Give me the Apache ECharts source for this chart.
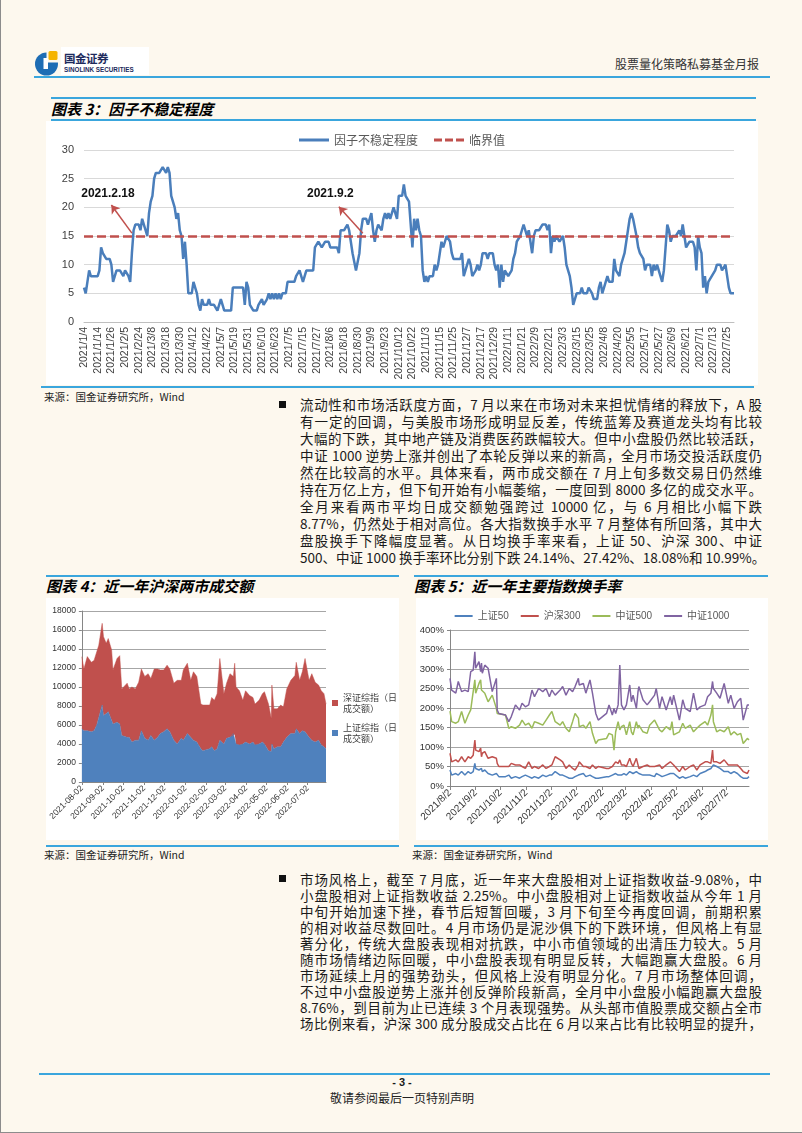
<!DOCTYPE html>
<html><head><meta charset="utf-8">
<script src="https://cdn.jsdelivr.net/npm/echarts@6/dist/echarts.min.js"></script>
<style>
body{margin:0;}
#page{position:relative;width:802px;height:1133px;background:#fdf8ee;overflow:hidden;font-family:'Noto Sans CJK SC',sans-serif;color:#1a1a1a;box-sizing:border-box;border-left:1px solid #8c8c8c;border-bottom:1px solid #8c8c8c;}
.abs{position:absolute;}
.rule{position:absolute;height:2px;background:#3aa6dd;}
.ttl{position:absolute;font-size:15px;font-weight:700;font-style:italic;white-space:nowrap;line-height:18px;color:#000;}
.src{position:absolute;font-size:10.5px;white-space:nowrap;line-height:12px;color:#222;}
.para{position:absolute;left:299px;width:462px;font-size:13.5px;color:#1a1a1a;}
.para div{white-space:nowrap;text-align:justify;text-align-last:justify;}
.bullet{position:absolute;left:278px;width:7px;height:7px;background:#111;}
.box{position:absolute;background:#fff;}
</style></head>
<body>
<div id="page">
  <div class="abs" style="left:60px;top:47px;width:88px;height:28px;background:#fff;"></div>
  <svg class="abs" style="left:34px;top:50px" width="25" height="26" viewBox="0 0 25 26">
    <circle cx="11.5" cy="14" r="11.5" fill="#1e6db4"/>
    <rect x="11.5" y="0" width="14" height="12.5" fill="#fdf8ee"/>
    <rect x="8.5" y="8" width="4.5" height="11" fill="#ffffff"/>
    <rect x="13.5" y="1" width="9" height="9" rx="1.5" fill="#f5b400"/>
  </svg>
  <div class="abs" style="left:63px;top:51px;font-size:11.5px;font-weight:700;letter-spacing:-0.5px;color:#1d2a5c;line-height:14px;white-space:nowrap;">国金证券</div>
  <div class="abs" style="left:63px;top:66px;font-family:'Liberation Sans',sans-serif;font-size:6.3px;font-weight:700;color:#1d2a5c;line-height:7px;white-space:nowrap;">SINOLINK SECURITIES</div>
  <div class="abs" style="right:43px;top:56px;font-size:12px;color:#333;line-height:15px;white-space:nowrap;">股票量化策略私募基金月报</div>
  <div class="rule" style="left:33px;top:76px;width:736px;"></div>

  <div class="rule" style="left:50px;top:97px;width:705px;"></div>
  <div class="ttl" style="left:50px;top:100px;">图表 3：因子不稳定程度</div>
  <div class="rule" style="left:50px;top:119px;width:705px;"></div>
  <div class="box" id="c3" style="left:45px;top:121px;width:712px;height:264px;"></div>
  <div class="rule" style="left:40px;top:386px;width:713px;"></div>
  <div class="src" style="left:43px;top:391px;">来源：国金证券研究所，Wind</div>

  <div class="bullet" style="top:401px;"></div>
  <div class="para" style="top:396px;line-height:17px;">
    <div>流动性和市场活跃度方面，7 月以来在市场对未来担忧情绪的释放下，A 股</div>
    <div>有一定的回调，与美股市场形成明显反差，传统蓝筹及赛道龙头均有比较</div>
    <div>大幅的下跌，其中地产链及消费医药跌幅较大。但中小盘股仍然比较活跃，</div>
    <div>中证 1000 逆势上涨并创出了本轮反弹以来的新高，全月市场交投活跃度仍</div>
    <div>然在比较高的水平。具体来看，两市成交额在 7 月上旬多数交易日仍然维</div>
    <div>持在万亿上方，但下旬开始有小幅萎缩，一度回到 8000 多亿的成交水平。</div>
    <div>全月来看两市平均日成交额勉强跨过 10000 亿，与 6 月相比小幅下跌</div>
    <div>8.77%，仍然处于相对高位。各大指数换手水平 7 月整体有所回落，其中大</div>
    <div>盘股换手下降幅度显著。从日均换手率来看，上证 50、沪深 300、中证</div>
    <div>500、中证 1000 换手率环比分别下跌 24.14%、27.42%、18.08%和 10.99%。</div>
  </div>

  <div class="rule" style="left:45px;top:575px;width:353px;"></div>
  <div class="ttl" style="left:45px;top:577px;">图表 4：近一年沪深两市成交额</div>
  <div class="box" style="left:45px;top:598px;width:353px;height:242px;"></div>
  <div class="abs" id="c4" style="left:45px;top:598px;width:362px;height:242px;"></div>
  <div class="rule" style="left:45px;top:845px;width:353px;"></div>
  <div class="src" style="left:43px;top:849px;">来源：国金证券研究所，Wind</div>

  <div class="rule" style="left:413px;top:575px;width:354px;"></div>
  <div class="ttl" style="left:413px;top:577px;">图表 5：近一年主要指数换手率</div>
  <div class="box" id="c5" style="left:415px;top:598px;width:352px;height:242px;"></div>
  <div class="rule" style="left:413px;top:845px;width:354px;"></div>
  <div class="src" style="left:411px;top:849px;">来源：国金证券研究所，Wind</div>

  <div class="bullet" style="top:875px;"></div>
  <div class="para" style="top:871px;line-height:16px;">
    <div>市场风格上，截至 7 月底，近一年来大盘股相对上证指数收益-9.08%，中</div>
    <div>小盘股相对上证指数收益 2.25%。中小盘股相对上证指数收益从今年 1 月</div>
    <div>中旬开始加速下挫，春节后短暂回暖，3 月下旬至今再度回调，前期积累</div>
    <div>的相对收益尽数回吐。4 月市场仍是泥沙俱下的下跌环境，但风格上有显</div>
    <div>著分化，传统大盘股表现相对抗跌，中小市值领域的出清压力较大。5 月</div>
    <div>随市场情绪边际回暖，中小盘股表现有明显反转，大幅跑赢大盘股。6 月</div>
    <div>市场延续上月的强势劲头，但风格上没有明显分化。7 月市场整体回调，</div>
    <div>不过中小盘股逆势上涨并创反弹阶段新高，全月中小盘股小幅跑赢大盘股</div>
    <div>8.76%，到目前为止已连续 3 个月表现强势。从头部市值股票成交额占全市</div>
    <div>场比例来看，沪深 300 成分股成交占比在 6 月以来占比有比较明显的提升，</div>
  </div>

  <div class="rule" style="left:38px;top:1073px;width:731px;"></div>
  <div class="abs" style="left:0;width:802px;top:1076px;text-align:center;font-family:'Liberation Sans',sans-serif;font-weight:700;font-size:11px;line-height:13px;">- 3 -</div>
  <div class="abs" style="left:0;width:802px;top:1090px;text-align:center;font-size:12px;line-height:15px;color:#222;">敬请参阅最后一页特别声明</div>
</div>

<script>
// ---------- 图表3 数据 ----------
const factorTickLabels = ['2021/1/4','2021/1/14','2021/1/26','2021/2/5','2021/2/24','2021/3/8','2021/3/18','2021/3/30','2021/4/12','2021/4/22','2021/5/7','2021/5/19','2021/5/31','2021/6/10','2021/6/23','2021/7/5','2021/7/15','2021/7/27','2021/8/6','2021/8/18','2021/8/30','2021/9/9','2021/9/23','2021/10/12','2021/10/22','2021/11/3','2021/11/15','2021/11/25','2021/12/7','2021/12/17','2021/12/29','2022/1/11','2022/1/21','2022/2/9','2022/2/21','2022/3/3','2022/3/15','2022/3/25','2022/4/8','2022/4/20','2022/5/5','2022/5/17','2022/5/27','2022/6/9','2022/6/21','2022/7/1','2022/7/13','2022/7/25'];
const marketClosedDays = ['2021/1/1','2021/2/11','2021/2/12','2021/2/15','2021/2/16','2021/2/17','2021/4/5','2021/5/3','2021/5/4','2021/5/5','2021/6/14','2021/9/20','2021/9/21','2021/10/1','2021/10/4','2021/10/5','2021/10/6','2021/10/7','2022/1/3','2022/1/31','2022/2/1','2022/2/2','2022/2/3','2022/2/4','2022/4/4','2022/4/5','2022/5/2','2022/5/3','2022/5/4','2022/6/3'];
const factorRange = ['2021/1/4', '2022/7/29'];
const factorValues = [
6,5,7,9,8,8,8,8,8,9,13,12,12,11,11,11,10,7,7,9,
9,9,9,8,9,9,8,7,12,16,17,17,17,16,18,17,16,15,19,21,22,25,26,26,26,26,27,27,26,27,26,22,21,20,18,19,16,15,
11,14,10,5,5,5,7,7,5,3,2,4,3,3,3,4,3,3,3,3,2,2,4,3,2,2,2,2,2,6,6,6,6,6,6,
6,3,7,6,3,3,2,2,2,3,3,4,3,3,4,5,4,5,4,5,4,5,4,5,5,5,7,7,7,7,7,8,8,9,8,7,8,9,9,9,9,
9,13,13,14,14,13,13,14,14,14,13,13,13,13,13,12,16,16,16,16,17,16,14,12,12,9,9,12,16,18,18,18,17,18,19,16,14,16,17,
17,16,18,19,18,19,18,18,20,19,18,22,22,22,24,22,22,21,21,13,18,16,18,16,15,9,7,8,7,8,8,8,10,9,10,12,14,13,14,
15,15,14,12,11,11,11,11,11,12,8,9,10,11,10,8,8,9,10,9,10,12,12,12,11,12,12,12,10,9,10,6,10,7,9,9,
8,8,9,11,12,14,14,15,16,17,17,15,16,16,12,15,16,16,16,16,17,17,17,16,17,12,15,14,15,15,14,14,15,13,10,10,8,6,3,
3,5,5,5,6,5,5,5,6,6,5,4,4,4,6,7,5,6,7,8,7,7,7,11,9,9,8,10,11,12,14,16,18,19,18,18,15,
13,12,12,11,9,10,10,10,8,10,9,10,9,8,7,9,13,17,16,14,15,15,15,15,16,15,17,15,13,13,14,14,14,13,9,15,13,12,6,
8,5,7,7,8,8,9,10,10,10,9,9,10,10,6,5,5,5];
const threshold = 15;
const annotations = [
  {text:'2021.2.18', date:'2021/2/18', value:15.5, tailDate:'2021/1/26', tailValue:20.4, textDate:'2021/1/22', textValue:22.3},
  {text:'2021.9.2',  date:'2021/9/2',  value:15.5, tailDate:'2021/8/13', tailValue:20.1, textDate:'2021/8/6',  textValue:22.3}
];

// ---------- 图表4 数据 ----------
const volTicks = ['2021-08-02','2021-09-02','2021-10-02','2021-11-02','2021-12-02','2022-01-02','2022-02-02','2022-03-02','2022-04-02','2022-05-02','2022-06-02','2022-07-02'];
const volDates = ['2021-08-02','2021-08-05','2021-08-10','2021-08-16','2021-08-20','2021-08-24','2021-08-27','2021-09-01','2021-09-03','2021-09-07','2021-09-10','2021-09-15','2021-09-17','2021-09-23','2021-09-27','2021-09-30','2021-10-08','2021-10-11','2021-10-15','2021-10-20','2021-10-25','2021-10-29','2021-11-03','2021-11-08','2021-11-12','2021-11-17','2021-11-22','2021-11-26','2021-12-01','2021-12-06','2021-12-10','2021-12-16','2021-12-21','2021-12-27','2021-12-30','2022-01-05','2022-01-10','2022-01-14','2022-01-19','2022-01-25','2022-01-28','2022-02-07','2022-02-10','2022-02-14','2022-02-18','2022-02-22','2022-02-28','2022-03-04','2022-03-09','2022-03-14','2022-03-16','2022-03-18','2022-03-23','2022-03-28','2022-04-01','2022-04-07','2022-04-12','2022-04-15','2022-04-21','2022-04-26','2022-04-29','2022-05-05','2022-05-09','2022-05-10','2022-05-13','2022-05-18','2022-05-23','2022-05-27','2022-06-01','2022-06-07','2022-06-13','2022-06-15','2022-06-20','2022-06-24','2022-06-28','2022-07-04','2022-07-08','2022-07-13','2022-07-18','2022-07-22','2022-07-26','2022-07-29'];
const shVol = [5600,5400,5400,5300,5400,6000,6800,8100,7000,7200,7400,6500,6100,6300,6100,4900,4700,4700,4200,4400,4400,5400,4600,4400,4900,4400,4700,5100,5300,5600,5300,4400,4000,4600,4400,5100,4700,4400,4200,3500,3300,3500,3700,3300,3500,4400,4000,4600,4700,5100,5000,4000,3900,4000,4200,4000,4200,3900,4000,4200,4000,3300,3200,4000,3500,3700,3700,4200,4700,5100,5100,5600,5100,5400,5300,4700,4400,4200,4400,3900,3700,3500];
const szVol = [7600,6500,7800,7300,7400,7700,7600,8600,8300,7400,7700,7400,5700,6700,7200,4900,5700,5100,5800,5400,6100,6500,6500,7000,6000,7500,7200,6700,6500,6700,6600,6000,6700,6100,7400,7400,6000,7200,6900,4700,4800,4600,5200,5300,5800,8600,5300,5800,6700,6000,7500,6000,5700,4600,5400,5100,4700,4300,4600,5100,5500,4900,3500,6200,4200,4000,4400,3700,5100,5600,6100,7000,5600,6200,7700,6000,7000,6300,5800,5700,5600,4700];

// ---------- 图表5 数据 ----------
const turnTicks = ['2021/8/2','2021/9/2','2021/10/2','2021/11/2','2021/12/2','2022/1/2','2022/2/2','2022/3/2','2022/4/2','2022/5/2','2022/6/2','2022/7/2'];
const turnDates = ['2021-08-02','2021-08-04','2021-08-09','2021-08-12','2021-08-16','2021-08-20','2021-08-24','2021-08-27','2021-08-30','2021-09-01','2021-09-02','2021-09-06','2021-09-08','2021-09-09','2021-09-10','2021-09-13','2021-09-17','2021-09-22','2021-09-27','2021-09-28','2021-09-30','2021-10-08','2021-10-12','2021-10-15','2021-10-20','2021-10-25','2021-10-28','2021-11-01','2021-11-05','2021-11-09','2021-11-12','2021-11-17','2021-11-22','2021-11-26','2021-11-30','2021-12-03','2021-12-07','2021-12-13','2021-12-16','2021-12-20','2021-12-24','2021-12-28','2021-12-31','2022-01-04','2022-01-05','2022-01-10','2022-01-13','2022-01-18','2022-01-21','2022-01-25','2022-01-28','2022-02-07','2022-02-10','2022-02-14','2022-02-16','2022-02-18','2022-02-21','2022-02-23','2022-02-25','2022-02-28','2022-03-03','2022-03-07','2022-03-09','2022-03-11','2022-03-15','2022-03-17','2022-03-18','2022-03-23','2022-03-28','2022-03-31','2022-04-06','2022-04-08','2022-04-12','2022-04-15','2022-04-20','2022-04-25','2022-04-27','2022-04-29','2022-05-06','2022-05-10','2022-05-13','2022-05-19','2022-05-23','2022-05-27','2022-05-31','2022-06-06','2022-06-09','2022-06-13','2022-06-15','2022-06-16','2022-06-20','2022-06-24','2022-06-29','2022-07-04','2022-07-07','2022-07-11','2022-07-15','2022-07-19','2022-07-22','2022-07-27','2022-07-29'];
const sz50Turn = [41,28,32,28,37,28,37,32,37,58,45,41,45,45,37,41,32,28,32,28,24,24,28,20,24,20,24,28,24,20,24,20,28,24,28,28,37,28,28,24,20,20,24,28,28,32,24,28,24,20,20,24,24,28,24,32,28,28,28,32,28,37,32,32,37,32,32,28,28,28,24,32,28,24,28,32,28,32,20,24,20,24,28,24,32,37,41,45,50,54,50,45,37,37,32,37,32,24,20,20,24];
const hs300Turn = [84,62,67,62,75,62,75,71,79,118,92,88,97,75,84,88,71,75,71,58,50,50,50,58,54,54,50,45,62,45,50,45,54,45,50,54,75,67,62,45,54,45,41,54,62,50,50,45,54,45,50,45,45,50,45,62,58,67,54,54,50,71,58,50,71,54,45,50,54,50,50,50,54,45,54,62,62,54,37,50,41,50,54,41,54,62,62,58,92,62,62,58,67,54,54,54,54,45,37,32,41];
const zz500Turn = [192,165,161,165,191,161,182,195,242,272,238,263,272,246,246,238,216,233,199,186,182,182,148,152,148,156,169,156,161,148,165,161,156,169,182,191,165,156,165,148,139,165,186,174,152,156,148,165,135,109,118,122,135,131,92,139,165,144,152,156,131,165,139,131,165,148,156,139,135,156,169,165,144,139,152,144,165,131,139,161,148,156,139,148,156,165,156,182,208,165,139,144,139,152,131,139,131,135,109,122,118];
const zz1000Turn = [276,246,238,268,242,246,242,293,297,344,302,319,293,315,289,310,302,242,276,195,186,182,165,178,208,195,212,203,208,246,229,250,242,250,229,246,233,246,255,233,250,242,255,276,259,263,238,272,238,186,169,186,208,182,199,186,208,310,208,195,208,259,216,233,199,242,255,221,208,216,233,250,199,229,195,229,208,233,169,221,199,191,238,195,203,208,229,238,268,250,238,225,263,212,233,199,216,225,169,208,208];

// ---------- helpers ----------
const FONT = "'Liberation Sans','Noto Sans CJK SC',sans-serif";
const CJK = "'Noto Sans CJK SC',sans-serif";
function toTime(s){const p=s.split(/[-\/]/).map(Number);return new Date(p[0],p[1]-1,p[2]).getTime();}
function dayKey(d){return d.getFullYear()+'/'+(d.getMonth()+1)+'/'+d.getDate();}
function tradingDays(from,to,closed){
  const out=[];const d=new Date(toTime(from));const end=toTime(to);const cl=new Set(closed);
  while(d.getTime()<=end){const w=d.getDay();const k=dayKey(d);if(w!==0&&w!==6&&!cl.has(k))out.push(k);d.setDate(d.getDate()+1);}
  return out;
}
function pad(n){return n<10?'0'+n:''+n;}
const LINE_ICON = 'path://M0,0H30V3H0Z';
const DASH_ICON = 'path://M0,0H8V3H0Z M11,0H19V3H11Z M22,0H30V3H22Z';
const factorDays = tradingDays(factorRange[0], factorRange[1], marketClosedDays);
const factorTickSet = new Set(factorTickLabels);
if (factorDays.length !== factorValues.length) console.log('length mismatch', factorDays.length, factorValues.length);

// ---------- 图表3 ----------
try {
const c3 = echarts.init(document.getElementById('c3'));
c3.setOption({
  animation:false,
  textStyle:{fontFamily:FONT},
  legend:{top:8,left:'center',itemWidth:30,itemHeight:3,itemGap:16,
    textStyle:{fontSize:12,color:'#595959',fontFamily:CJK},
    data:[{name:'因子不稳定程度',icon:LINE_ICON},{name:'临界值',icon:DASH_ICON}]},
  grid:{left:38,right:24,top:29,bottom:63},
  xAxis:{type:'category',data:factorDays,boundaryGap:false,
    axisTick:{show:false},axisLine:{lineStyle:{color:'#bfbfbf'}},
    axisLabel:{interval:(i,v)=>factorTickSet.has(v),rotate:90,fontSize:10.5,color:'#404040',margin:5}},
  yAxis:{type:'value',min:0,max:30,interval:5,axisLine:{show:false},axisTick:{show:false},
    splitLine:{lineStyle:{color:'#d9d9d9'}},axisLabel:{fontSize:11,color:'#404040',margin:10}},
  series:[
    {name:'因子不稳定程度',type:'line',data:factorValues,symbol:'none',color:'#4a7ebb',
      lineStyle:{width:2.5,color:'#4a7ebb'},z:3,
      markLine:{silent:true,symbol:['none','arrow'],symbolSize:8,label:{show:false},
        lineStyle:{color:'#c0504d',width:1.5,type:'solid'},
        data:annotations.map(a=>[{coord:[a.date,a.value]},{coord:[a.tailDate,a.tailValue]}])},
      markPoint:{silent:true,symbol:'rect',symbolSize:1,itemStyle:{color:'rgba(0,0,0,0)'},
        label:{show:true,position:'inside',formatter:p=>p.name,fontWeight:'bold',fontSize:12,color:'#111'},
        data:annotations.map(a=>({name:a.text,coord:[a.textDate,a.textValue]}))}},
    {name:'临界值',type:'line',data:[],symbol:'none',color:'#c0504d',
      lineStyle:{width:2.5,type:[9,4],color:'#c0504d'},
      markLine:{silent:true,symbol:'none',label:{show:false},
        lineStyle:{color:'#c0504d',width:2.5,type:[9,4]},data:[{yAxis:threshold}]}}
  ]
});
} catch(e) { console.log('c3', e); }

// ---------- 图表4 ----------
try {
const c4 = echarts.init(document.getElementById('c4'));
const volTickTimes = volTicks.map(toTime);
const volMin = toTime(volDates[0]), volMax = toTime(volDates[volDates.length-1]);
c4.setOption({
  animation:false,
  textStyle:{fontFamily:FONT},
  legend:{orient:'vertical',left:286,top:94,padding:0,icon:'rect',itemWidth:6,itemHeight:6,itemGap:8,
    data:['深证综指（日成交额）','上证综指（日成交额）'],
    formatter:n=>n.replace('（日','（日\n'),
    textStyle:{fontSize:9,color:'#404040',lineHeight:11,fontFamily:CJK}},
  grid:{left:33,right:82,top:13,bottom:58},
  xAxis:[
    {type:'time',min:volMin,max:volMax,show:false},
    {type:'value',min:volMin,max:volMax,position:'bottom',
      splitLine:{show:false},axisLine:{lineStyle:{color:'#868686'}},
      axisTick:{show:true,customValues:volTickTimes,length:3,lineStyle:{color:'#868686'}},
      axisLabel:{customValues:volTickTimes,rotate:45,fontSize:8.5,color:'#333',margin:5,
        formatter:v=>{const d=new Date(v);return d.getFullYear()+'-'+pad(d.getMonth()+1)+'-'+pad(d.getDate());}}}
  ],
  yAxis:{type:'value',min:0,max:18000,interval:2000,
    axisLine:{show:true,lineStyle:{color:'#868686'}},axisTick:{show:true,length:3,lineStyle:{color:'#868686'}},
    splitLine:{lineStyle:{color:'#a6a6a6'}},axisLabel:{fontSize:8.5,color:'#333',margin:6,formatter:v=>String(v)}},
  series:[
    {name:'上证综指（日成交额）',type:'line',stack:'vol',symbol:'none',color:'#4f81bd',xAxisIndex:0,
      lineStyle:{width:0.5,color:'#4f81bd'},areaStyle:{color:'#4f81bd',opacity:1},
      data:volDates.map((d,i)=>[d,shVol[i]])},
    {name:'深证综指（日成交额）',type:'line',stack:'vol',symbol:'none',color:'#c0504d',xAxisIndex:0,
      lineStyle:{width:0.5,color:'#c0504d'},areaStyle:{color:'#c0504d',opacity:1},
      data:volDates.map((d,i)=>[d,szVol[i]])}
  ]
});
} catch(e) { console.log('c4', e); }

// ---------- 图表5 ----------
try {
const c5 = echarts.init(document.getElementById('c5'));
const turnTickTimes = turnTicks.map(toTime);
const turnSeries = [
  {name:'上证50',values:sz50Turn,color:'#4f81bd'},
  {name:'沪深300',values:hs300Turn,color:'#c0504d'},
  {name:'中证500',values:zz500Turn,color:'#9bbb59'},
  {name:'中证1000',values:zz1000Turn,color:'#8064a2'}
];
c5.setOption({
  animation:false,
  textStyle:{fontFamily:FONT},
  legend:{top:8,left:'center',itemWidth:18,itemHeight:2,itemGap:12,
    textStyle:{fontSize:10,color:'#595959'},
    data:turnSeries.map(s=>({name:s.name,icon:'path://M0,0H18V2H0Z'}))},
  grid:{left:34,right:19,top:32,bottom:54},
  xAxis:{type:'value',min:toTime(turnDates[0]),max:toTime(turnDates[turnDates.length-1]),
    splitLine:{show:false},axisLine:{lineStyle:{color:'#868686'}},
    axisTick:{show:true,customValues:turnTickTimes,length:4,lineStyle:{color:'#868686'}},
    axisLabel:{customValues:turnTickTimes,rotate:45,fontSize:10,color:'#333',margin:5,
      formatter:v=>{const d=new Date(v);return d.getFullYear()+'/'+(d.getMonth()+1)+'/'+d.getDate();}}},
  yAxis:{type:'value',min:0,max:400,interval:50,
    axisLine:{show:true,lineStyle:{color:'#868686'}},axisTick:{show:true,length:3,lineStyle:{color:'#868686'}},
    splitLine:{lineStyle:{color:'#a6a6a6'}},axisLabel:{fontSize:9.5,color:'#333',margin:6,formatter:'{value}%'}},
  series:turnSeries.map(s=>({name:s.name,type:'line',symbol:'none',color:s.color,
    lineStyle:{width:1.5,color:s.color},data:turnDates.map((d,i)=>[toTime(d),s.values[i]])}))
});
} catch(e) { console.log('c5', e); }
</script>
</body></html>
